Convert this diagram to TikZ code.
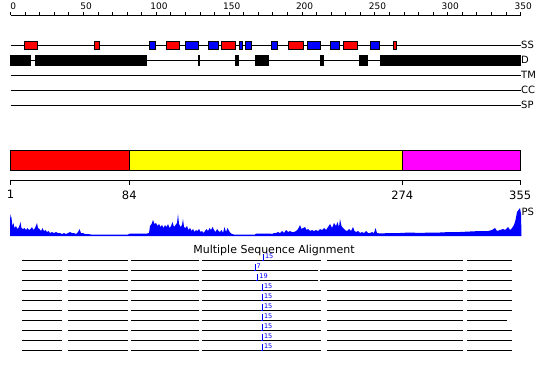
\documentclass[tikz,border=0pt]{standalone}
\usepackage{fontspec}
\setmainfont{DejaVu Sans}
\usetikzlibrary{positioning}

\definecolor{helixred}{RGB}{255,0,0}
\definecolor{strandblue}{RGB}{0,0,255}
\definecolor{domyellow}{RGB}{255,255,0}
\definecolor{dommagenta}{RGB}{255,0,255}

\begin{document}
\begin{tikzpicture}
% Style
[
    x=1pt, y=-1pt, line width=1pt, line cap=butt,
    track/.style={draw=black},
    helix/.style={draw=black, fill=helixred},
    strand/.style={draw=black, fill=strandblue},
    disorder/.style={fill=black},
    domain box/.style={draw=black},
    ruler text/.style={font=\fontsize{9}{9}\selectfont, inner sep=0pt, anchor=base},
    track text/.style={font=\fontsize{10}{10}\selectfont, inner sep=0pt, anchor=west},
    domain text/.style={font=\fontsize{11.5}{11.5}\selectfont, inner sep=0pt, anchor=north},
    insert mark/.style={draw=strandblue, line width=0.8pt},
    insert text/.style={font=\fontsize{6.5}{6.5}\selectfont, text=strandblue, inner sep=0pt, anchor=south west}
]

% Define: Params
\newcommand{\rulerx}{10.7}      %x of residue 0
\newcommand{\rulerstep}{1.457}  %px per residue
\newcommand{\trackend}{520.7}   %right end of tracks
\newcommand{\psbase}{236}       %baseline of PS plot

\useasboundingbox (0,0) rectangle (550,380);

%================================== Prepare ==================================
\newcommand{\drawtrack}[3]{
    % Draw: track line with its label
    \draw[track] (\rulerx,#1) -- (\trackend,#1) node[track text] (#2) {#3};
}
\newcommand{\segfull}{22/62, 68/128, 131/199, 202/321, 327/463, 467/512}
\newcommand{\segshift}{22/62, 68/128, 131/199, 202/318, 320/463, 467/512}
\newcommand{\segshort}{22/62, 68/128, 131/199, 202/321, 327/463, 467/507}
\newcommand{\drawmsarow}[4]{
    % Draw: aligned blocks and insertion mark
    \foreach \a/\b in #4 {
        \draw[track] (\a,#1) -- (\b,#1);
    }
    \draw[insert mark] (#2-1.5,#1) -- (#2,#1) -- (#2,#1-6.5);
    \node[insert text] (ins#1) at (#2+1.2,#1-1) {#3};
}

%=================================== Start ===================================
{
    % Draw: Ruler
    \draw[track] (\rulerx,15) -- (\trackend,15);
    \foreach \v in {0,10,...,350} {
        \draw[track] (\rulerx+\rulerstep*\v,15) -- ++(0,-3.5);
    }
    \foreach \v in {0,50,...,350} {
        \node[ruler text] (tick\v) at (\rulerx+\rulerstep*\v+2.5,9.3) {\v};
    }

    % Draw: Tracks
    \drawtrack{45}{ss}{SS}
    \drawtrack{60}{dis}{D}
    \drawtrack{75}{tm}{TM}
    \drawtrack{90}{cc}{CC}
    \drawtrack{105}{sp}{SP}

    % Draw: Secondary structure
    \foreach \a/\b in {24.8/37.2, 94.8/99.2, 166.8/179.2, 221.8/235.2, 288.8/303.2, 343.8/357.2, 393.8/396.2} {
        \filldraw[helix] (\a,41) rectangle (\b,49.5);
    }
    \foreach \a/\b in {149.5/155.2, 185.8/198.2, 208.5/218.2, 239.5/242.2, 245.5/251.2, 271.5/277.8, 307.8/320.2, 330.5/339.8, 370.8/379.2} {
        \filldraw[strand] (\a,41) rectangle (\b,49.5);
    }

    % Draw: Disorder
    \foreach \a/\b in {10/31, 35/147, 198.3/200, 235/239, 255/268.7, 320/324, 359/367.7, 380/520.7} {
        \fill[disorder] (\a,55) rectangle (\b,65.7);
    }

    % Draw: Domains
    \filldraw[domain box, fill=helixred] (10.5,150.5) rectangle (129.3,170);
    \filldraw[domain box, fill=domyellow] (129.3,150.5) rectangle (402.3,170);
    \filldraw[domain box, fill=dommagenta] (402.3,150.5) rectangle (520.2,170);
    \draw[track] (10,180.5) -- (520.7,180.5);
    \foreach \x/\r in {10.5/1, 129.3/84, 402.3/274, 520.2/355} {
        \draw[track] (\x,180.5) -- ++(0,4.5);
        \node[domain text] (res\r) at (\x,190) {\r};
    }

    % Draw: PS profile
    \begin{scope}[shift={(0,\psbase)}, y=1pt]
        \fill[strandblue] plot coordinates {
            (10,0) (10.3,22) (11.5,18) (12.5,10) (13.5,13) (14.5,8) (16,10) (17.5,7)
            (19,9) (20.5,14) (21.5,8) (23,7) (24.5,8) (26,6) (27.5,8) (29,6) (30.5,7)
            (32,9) (33.5,6) (35,8) (37,13) (38,8) (39.5,7) (41,5) (42.5,8) (44,5)
            (45.5,6) (47,4) (48.5,5) (50,3) (52,4) (54,3) (56,4) (58,3) (60,3) (62,2)
            (64,3) (66,2) (68,3) (70,4) (72,3) (74,3) (76,2) (78,4) (79.5,7) (81,3)
            (83,3) (85,2) (88,2) (91,1.5) (128,1.5) (130,2.5) (147,2.5) (149,3)
            (150,10) (151.5,12) (153,16) (154.5,12) (156,13) (157.5,10) (159,12)
            (160.5,9) (162,11) (163.5,8) (165,11) (166.5,9) (168,12) (169.5,8) (171,10)
            (172.5,14) (174,9) (175.5,11) (177,13) (178,22) (179,12) (180.5,9) (182,11)
            (183,17) (184,9) (185.5,8) (187,10) (188.5,6) (190,8) (191.5,5) (193,7)
            (194.5,4) (196,6) (197.5,5) (199,7) (200.5,4) (202,5) (203.5,3) (205,5)
            (206.5,7) (208,5) (209.5,8) (211,6) (212.5,9) (214,6) (215.5,4) (217,7)
            (218.5,5) (220,4) (221.5,6) (223,3) (224.5,9) (226,4) (227.5,8) (229,5)
            (230.5,3) (232,2) (234,1.5) (255,1.5) (256,2.5) (270,2.5) (272,2) (274,3)
            (276,3) (278,4) (280,3) (282,5) (284,3) (286,6) (288,4) (290,5) (292,4)
            (294,4) (296,5) (298,7) (300,11) (301.5,7) (303,8) (305,9) (306.5,6) (308,7)
            (310,5) (312,6) (314,5) (316,6) (318,5) (320,7) (322,6) (324,8) (326,6)
            (328,9) (330,12) (332,8) (334,13) (336,10) (337.5,14) (339,9) (340,17)
            (341.5,10) (343,8) (345,6) (347,5) (349,7) (351,5) (353,9) (354.5,5) (356,4)
            (358,5) (360,3) (362,4) (364,3) (366,5) (368,3) (370,3) (372,4) (374,3)
            (375.5,8) (377,3) (380,2.5) (390,3) (400,3) (410,3.5) (420,3) (430,3.5)
            (440,3.5) (450,4) (460,4) (470,4.5) (480,5) (488,5) (492,6) (495,8) (497,5)
            (500,6) (503,7) (505,6) (508,9) (510,6) (512,8) (514,11) (515.5,16) (517,24)
            (518.5,26) (520,28) (521,22) (521.5,0)
        } -- cycle;
    \end{scope}
    \node[track text] (ps) at (521,211.5) {PS};

    % Draw: Alignment
    \node[font=\fontsize{11}{11}\selectfont, inner sep=0pt] (msa) at (274,250.5) {Multiple Sequence Alignment};
    \drawmsarow{260}{263.3}{15}{\segfull}
    \drawmsarow{270}{255}{7}{\segshift}
    \drawmsarow{280}{257.7}{19}{\segshift}
    \foreach \y in {290,300,310,330,340,350} {
        \drawmsarow{\y}{262.3}{15}{\segfull}
    }
    \drawmsarow{320}{262.3}{15}{\segshort}
}
%==================================== END ====================================

\end{tikzpicture}
\end{document}
